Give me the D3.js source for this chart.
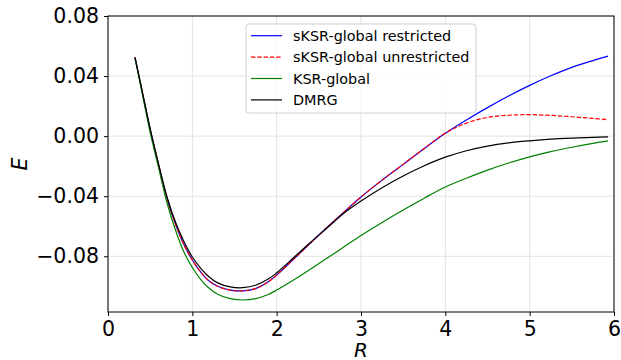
<!DOCTYPE html>
<html>
<head>
<meta charset="utf-8">
<script src="https://cdn.jsdelivr.net/npm/d3@7.9.0/dist/d3.min.js"></script>
<style>
  body { margin: 0; background: #fff; }
  svg { font-family: "DejaVu Sans", sans-serif; }
</style>
</head>
<body>
<div id="chart"></div>
<script>
// bond length R and energies
const rValues = [0.32, 0.4, 0.5, 0.6, 0.7, 0.8, 0.9, 1.0, 1.1, 1.2, 1.3, 1.45, 1.6, 1.75, 1.9, 2.0,
  2.2, 2.4, 2.6, 2.8, 3.0, 3.25, 3.5, 3.75, 4.0, 4.25, 4.5, 4.75, 5.0, 5.25, 5.5, 5.75, 5.93];

const restricted = [0.0525, 0.031, 0.0045, -0.0195, -0.0415, -0.0585, -0.0722, -0.0825, -0.0905, -0.0965,
  -0.1000, -0.1025, -0.1030, -0.1015, -0.0970, -0.0925, -0.0820, -0.0712, -0.0607, -0.0505, -0.0405,
  -0.0293, -0.0188, -0.0082, 0.002, 0.0108, 0.0190, 0.0267, 0.0338, 0.0402, 0.0458, 0.0503, 0.0533];

const unrestricted = [0.0525, 0.031, 0.0045, -0.0195, -0.0415, -0.0585, -0.0722, -0.0825, -0.0905, -0.0965,
  -0.1000, -0.1025, -0.1030, -0.1015, -0.0970, -0.0925, -0.0820, -0.0712, -0.0607, -0.0505, -0.0405,
  -0.0293, -0.0188, -0.0082, 0.002, 0.0087, 0.0125, 0.0139, 0.0143, 0.0138, 0.0129, 0.0118, 0.0109];

const ksr = [0.0520, 0.030, 0.0025, -0.021, -0.0445, -0.0625, -0.0772, -0.0875, -0.0955, -0.1013,
  -0.1053, -0.1082, -0.1091, -0.1082, -0.1054, -0.1025, -0.0958, -0.0886, -0.0812, -0.0737, -0.0662,
  -0.0575, -0.0492, -0.0413, -0.0339, -0.0280, -0.0226, -0.0179, -0.0138, -0.0103, -0.0074, -0.0048, -0.0032];

const dmrg = [0.0525, 0.0315, 0.005, -0.0185, -0.0405, -0.0572, -0.0702, -0.0805, -0.0880, -0.0938,
  -0.0977, -0.1004, -0.1009, -0.0993, -0.0952, -0.0910, -0.0810, -0.0708, -0.0610, -0.0512, -0.0432,
  -0.0343, -0.0265, -0.0197, -0.0140, -0.0097, -0.0066, -0.0045, -0.0031, -0.0020, -0.0013, -0.0008, -0.0005];

const xTicks = [0, 1, 2, 3, 4, 5, 6];
const yTicks = [-0.08, -0.04, 0.00, 0.04, 0.08];

const seriesNames = ['sKSR-global restricted', 'sKSR-global unrestricted', 'KSR-global', 'DMRG'];
const seriesValues = [restricted, unrestricted, ksr, dmrg];
const seriesColors = ['#0000ff', '#ff0000', '#008000', '#000000'];
const seriesDash = [null, '4.4,1.9', null, null];

const width = 621;
const height = 360;
const margin = { top: 16, right: 7, bottom: 48, left: 108 };

const svg = d3.select('#chart')
  .append('svg')
  .attr('width', width)
  .attr('height', height);

const xScale = d3.scaleLinear()
  .domain([0, 6])
  .range([margin.left, width - margin.right]);
const yScale = d3.scaleLinear()
  .domain([-0.1171, 0.08])
  .range([height - margin.bottom, margin.top]);

// gridlines
const grid = svg.append('g').attr('class', 'grid');
grid.selectAll('line.gx')
  .data(xTicks)
  .join('line')
  .attr('class', 'gx')
  .attr('x1', d => xScale(d)).attr('x2', d => xScale(d))
  .attr('y1', margin.top).attr('y2', height - margin.bottom)
  .attr('stroke', '#e3e3e3')
  .attr('stroke-width', 1);
grid.selectAll('line.gy')
  .data(yTicks)
  .join('line')
  .attr('class', 'gy')
  .attr('x1', margin.left).attr('x2', width - margin.right)
  .attr('y1', d => yScale(d)).attr('y2', d => yScale(d))
  .attr('stroke', '#e3e3e3')
  .attr('stroke-width', 1);

// curves
const line = d3.line()
  .x((d, i) => xScale(rValues[i]))
  .y(d => yScale(d))
  .curve(d3.curveCatmullRom.alpha(0.5));

svg.append('g')
  .selectAll('path')
  .data(seriesValues)
  .join('path')
  .attr('d', d => line(d))
  .attr('fill', 'none')
  .attr('stroke', (d, i) => seriesColors[i])
  .attr('stroke-width', 1.2)
  .attr('stroke-dasharray', (d, i) => seriesDash[i]);

// axes
const xAxis = d3.axisBottom(xScale)
  .tickValues(xTicks)
  .tickFormat(d3.format('d'))
  .tickSizeOuter(0)
  .tickSize(4)
  .tickPadding(5);
const yAxis = d3.axisLeft(yScale)
  .tickValues(yTicks)
  .tickFormat(d3.format('.2f'))
  .tickSizeOuter(0)
  .tickSize(4)
  .tickPadding(5);

const gx = svg.append('g')
  .attr('transform', `translate(0, ${height - margin.bottom})`)
  .call(xAxis);
const gy = svg.append('g')
  .attr('transform', `translate(${margin.left}, 0)`)
  .call(yAxis);

[gx, gy].forEach(g => {
  g.select('.domain').remove();
  g.selectAll('text')
    .attr('fill', '#000')
    .style('font-size', '20.5px')
    .style('font-family', '"DejaVu Sans", sans-serif');
  g.selectAll('line').attr('stroke', '#000').attr('stroke-width', 1);
});

// frame
svg.append('rect')
  .attr('x', margin.left)
  .attr('y', margin.top)
  .attr('width', width - margin.right - margin.left)
  .attr('height', height - margin.bottom - margin.top)
  .attr('fill', 'none')
  .attr('stroke', '#000')
  .attr('stroke-width', 1);

// axis labels
svg.append('text')
  .attr('x', (margin.left + width - margin.right) / 2)
  .attr('y', 357)
  .attr('text-anchor', 'middle')
  .style('font-size', '20px')
  .style('font-style', 'italic')
  .text('R');

svg.append('text')
  .attr('transform', `translate(27, ${(margin.top + height - margin.bottom) / 2}) rotate(-90)`)
  .attr('text-anchor', 'middle')
  .style('font-size', '20.5px')
  .style('font-style', 'italic')
  .text('E');

// legend
const legend = svg.append('g').attr('transform', 'translate(246, 24)');
legend.append('rect')
  .attr('width', 230)
  .attr('height', 89)
  .attr('rx', 3)
  .attr('fill', '#fff')
  .attr('fill-opacity', 0.8)
  .attr('stroke', '#d0d0d0')
  .attr('stroke-width', 1);

const rows = legend.selectAll('g.row')
  .data(seriesNames)
  .join('g')
  .attr('class', 'row')
  .attr('transform', (d, i) => `translate(0, ${11.7 + i * 21.4})`);

rows.append('line')
  .attr('x1', 5).attr('x2', 36)
  .attr('stroke', (d, i) => seriesColors[i])
  .attr('stroke-width', 1.2)
  .attr('stroke-dasharray', (d, i) => seriesDash[i]);

rows.append('text')
  .attr('x', 47)
  .attr('dy', '0.35em')
  .style('font-size', '14.4px')
  .text(d => d);
</script>
</body>
</html>
